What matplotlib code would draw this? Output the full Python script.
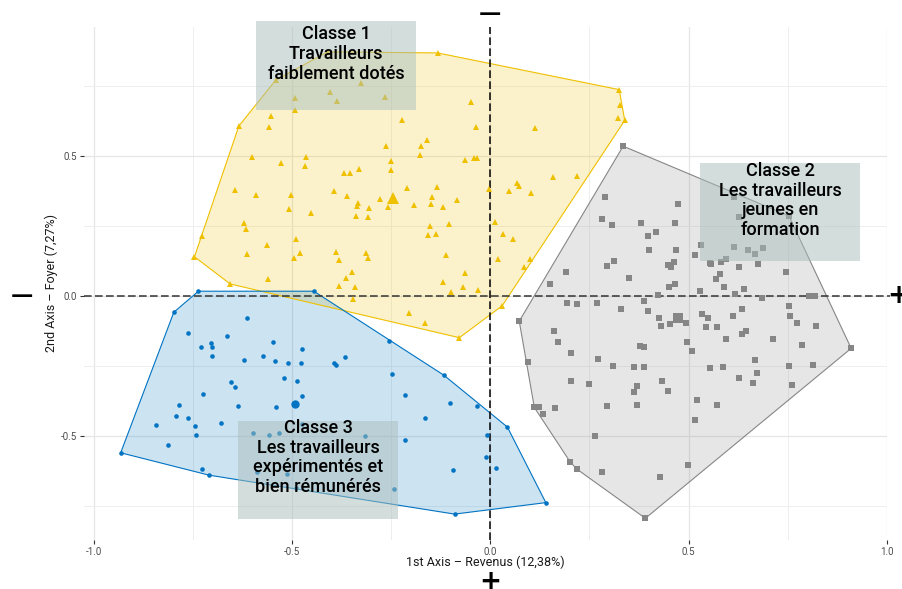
import numpy as np
import matplotlib.pyplot as plt
from matplotlib.patches import Polygon, Rectangle

plt.rcParams['font.family'] = ['Roboto', 'DejaVu Sans']

# class 1 - travailleurs faiblement dotés
c1_x = [-0.541, -0.410, -0.133, 0.325, 0.327, 0.322, 0.339, -0.492, -0.403, -0.387,
        -0.327, -0.266, -0.493, -0.552, -0.557, -0.634, -0.222, -0.264, -0.601, -0.529,
        -0.465, -0.467, -0.370, -0.354, -0.330, -0.250, -0.250, -0.211, -0.645, -0.049,
        -0.037, 0.113, -0.160, -0.174, -0.177, -0.065, -0.041, -0.034, 0.158, 0.219,
        -0.134, -0.003, 0.068, 0.073, -0.592, -0.503, -0.508, -0.451, -0.394, -0.361,
        -0.334, -0.335, -0.305, -0.338, -0.309, -0.277, -0.257, -0.622, -0.615, -0.728,
        -0.746, -0.564, -0.613, -0.491, -0.481, -0.494, -0.389, -0.381, -0.314, -0.308,
        -0.348, -0.365, -0.381, -0.340, -0.560, -0.656, -0.345, -0.204, 0.047, 0.103,
        -0.146, -0.150, -0.193, -0.119, -0.084, -0.153, -0.104, -0.156, -0.136, 0.013,
        0.032, 0.058, -0.111, 0.020, 0.100, 0.086, -0.064, -0.119, -0.070, -0.031,
        -0.098, 0.030, -0.165, -0.078]
c1_y = [0.770, 0.871, 0.867, 0.736, 0.681, 0.635, 0.626, 0.705, 0.726, 0.697,
        0.761, 0.709, 0.663, 0.642, 0.604, 0.606, 0.628, 0.536, 0.496, 0.474,
        0.497, 0.463, 0.438, 0.438, 0.453, 0.481, 0.449, 0.386, 0.378, 0.691,
        0.601, 0.600, 0.555, 0.535, 0.503, 0.485, 0.493, 0.493, 0.425, 0.429,
        0.389, 0.381, 0.401, 0.391, 0.359, 0.361, 0.310, 0.295, 0.373, 0.356,
        0.332, 0.321, 0.313, 0.286, 0.281, 0.344, 0.317, 0.261, 0.237, 0.214,
        0.139, 0.180, 0.149, 0.203, 0.153, 0.133, 0.157, 0.128, 0.154, 0.136,
        0.085, 0.063, 0.034, 0.032, 0.058, 0.042, -0.011, -0.062, 0.373, 0.366,
        0.354, 0.328, 0.323, 0.318, 0.342, 0.250, 0.256, 0.218, 0.219, 0.264,
        0.221, 0.201, 0.145, 0.132, 0.131, 0.101, 0.080, 0.049, 0.031, 0.021,
        0.013, -0.036, -0.096, -0.150]

# class 2 - jeunes en formation
c2_x = [0.335, 0.290, 0.474, 0.282, 0.308, 0.381, 0.466, 0.419, 0.398, 0.401,
        0.468, 0.516, 0.311, 0.295, 0.448, 0.456, 0.464, 0.192, 0.350, 0.151,
        0.451, 0.466, 0.423, 0.194, 0.219, 0.270, 0.330, 0.388, 0.398, 0.426,
        0.431, 0.454, 0.494, 0.073, 0.161, 0.171, 0.497, 0.509, 0.204, 0.378,
        0.388, 0.096, 0.272, 0.310, 0.363, 0.388, 0.204, 0.250, 0.434, 0.371,
        0.363, 0.449, 0.111, 0.123, 0.134, 0.164, 0.295, 0.371, 0.516, 0.265,
        0.202, 0.219, 0.282, 0.429, 0.499, 0.391, 0.615, 0.627, 0.532, 0.615,
        0.651, 0.668, 0.688, 0.595, 0.582, 0.555, 0.557, 0.628, 0.676, 0.580,
        0.570, 0.746, 0.590, 0.530, 0.618, 0.640, 0.686, 0.804, 0.819, 0.535,
        0.550, 0.613, 0.635, 0.754, 0.756, 0.774, 0.822, 0.545, 0.572, 0.635,
        0.645, 0.595, 0.714, 0.787, 0.910, 0.668, 0.555, 0.587, 0.754, 0.814,
        0.673, 0.628, 0.663, 0.761, 0.522, 0.572, 0.753]
c2_y = [0.534, 0.351, 0.326, 0.273, 0.251, 0.259, 0.259, 0.226, 0.212, 0.162,
        0.162, 0.144, 0.124, 0.106, 0.109, 0.101, 0.119, 0.084, 0.062, 0.041,
        0.030, 0.041, 0.001, -0.027, -0.031, -0.027, -0.049, -0.020, -0.056, -0.079,
        -0.109, -0.102, -0.099, -0.091, -0.127, -0.166, -0.166, -0.199, -0.206, -0.181,
        -0.184, -0.238, -0.227, -0.252, -0.256, -0.256, -0.306, -0.316, -0.306, -0.324,
        -0.345, -0.341, -0.399, -0.399, -0.424, -0.401, -0.395, -0.391, -0.445, -0.502,
        -0.595, -0.620, -0.631, -0.649, -0.606, -0.795, 0.351, 0.280, 0.180, 0.173,
        0.162, 0.148, 0.169, 0.131, 0.119, 0.116, 0.112, 0.101, 0.112, 0.076,
        0.059, 0.084, 0.030, 0.016, 0.005, 0.023, -0.009, -0.002, -0.002, -0.066,
        -0.081, -0.074, -0.049, -0.038, -0.074, -0.099, -0.109, -0.113, -0.113, -0.138,
        -0.127, -0.156, -0.156, -0.177, -0.188, -0.231, -0.259, -0.256, -0.252, -0.249,
        -0.277, -0.295, -0.313, -0.320, -0.374, -0.391, 0.285]

# class 3 - expérimentés et bien rémunérés
c3_x = [-0.736, -0.445, -0.798, -0.614, -0.763, -0.663, -0.548, -0.705, -0.701, -0.729,
        -0.474, -0.702, -0.620, -0.572, -0.542, -0.511, -0.478, -0.519, -0.487, -0.653,
        -0.644, -0.725, -0.474, -0.785, -0.636, -0.541, -0.792, -0.762, -0.842, -0.678,
        -0.745, -0.742, -0.474, -0.599, -0.557, -0.534, -0.812, -0.932, -0.727, -0.709,
        -0.589, -0.513, -0.490, -0.255, -0.367, -0.393, -0.390, -0.249, -0.117, -0.214,
        -0.102, -0.033, -0.165, 0.043, -0.008, -0.317, -0.214, -0.011, 0.014, -0.095,
        -0.244, 0.140, -0.090]
c3_y = [0.016, 0.016, -0.059, -0.081, -0.132, -0.143, -0.164, -0.168, -0.182, -0.183,
        -0.189, -0.215, -0.231, -0.216, -0.233, -0.240, -0.239, -0.294, -0.304, -0.307,
        -0.325, -0.350, -0.358, -0.391, -0.395, -0.398, -0.431, -0.436, -0.461, -0.454,
        -0.464, -0.496, -0.458, -0.489, -0.496, -0.491, -0.534, -0.561, -0.620, -0.641,
        -0.631, -0.636, -0.688, -0.162, -0.218, -0.241, -0.249, -0.281, -0.284, -0.354,
        -0.385, -0.395, -0.438, -0.469, -0.496, -0.500, -0.517, -0.575, -0.614, -0.621,
        -0.692, -0.739, -0.780]

# cluster centres
c1_center = (-0.245, 0.348)
c2_center = (0.473, -0.080)
c3_center = (-0.492, -0.386)

labels = ['Classe 1\nTravailleurs\nfaiblement dotés',
          'Classe 2\nLes travailleurs\njeunes en\nformation',
          'Classe 3\nLes travailleurs\nexpérimentés et\nbien rémunérés']
xtick_vals = [-1.0, -0.5, 0.0, 0.5, 1.0]
xtick_labels = ['-1.0', '-0.5', '0.0', '0.5', '1.0']
ytick_vals = [-0.5, 0.0, 0.5]
ytick_labels = ['-0.5', '0.0', '0.5']


def convex_hull(xs, ys):
    pts = sorted(set(zip(xs, ys)))

    def cross(o, a, b):
        return (a[0] - o[0]) * (b[1] - o[1]) - (a[1] - o[1]) * (b[0] - o[0])

    lower = []
    for p in pts:
        while len(lower) >= 2 and cross(lower[-2], lower[-1], p) <= 0:
            lower.pop()
        lower.append(p)
    upper = []
    for p in reversed(pts):
        while len(upper) >= 2 and cross(upper[-2], upper[-1], p) <= 0:
            upper.pop()
        upper.append(p)
    return lower[:-1] + upper[:-1]


fig = plt.figure(figsize=(9.02, 5.89), dpi=100)
ax = fig.add_axes([84 / 902, 49 / 589, 803 / 902, 513 / 589])

clusters = [
    (c1_x, c1_y, c1_center, '#EFC000', '^', 4.2, 8.0),
    (c2_x, c2_y, c2_center, '#868686', 's', 4.2, 6.5),
    (c3_x, c3_y, c3_center, '#0073C2', 'o', 3.3, 6.0),
]
for xs, ys, ctr, col, mk, ms, cms in clusters:
    h = convex_hull(xs, ys)
    ax.add_patch(Polygon(h, closed=True, facecolor=col, alpha=0.2, edgecolor='none', zorder=1))
    ax.add_patch(Polygon(h, closed=True, fill=False, edgecolor=col, lw=0.8, zorder=2))
    ax.plot(xs, ys, mk, color=col, ms=ms, mew=0, ls='none', zorder=4)
    ax.plot([ctr[0]], [ctr[1]], mk, color=col, ms=cms, mew=0, ls='none', zorder=4)

ax.axvline(0, color='black', lw=1.1, dashes=(5, 2.2), zorder=3)
ax.axhline(0, xmin=0, xmax=1.004, color='#333333', lw=1.1, dashes=(5, 2.2), zorder=3, clip_on=False)

# label boxes
boxes = [((-0.591, 0.663), 0.404, 0.318, (-0.389, 0.863)),
         ((0.529, 0.125), 0.403, 0.348, (0.731, 0.340)),
         ((-0.635, -0.796), 0.402, 0.3485, (-0.434, -0.578))]
for (xy, w, hgt, tpos), txt in zip(boxes, labels):
    ax.add_patch(Rectangle(xy, w, hgt, facecolor='#a9bfbb', alpha=0.5, edgecolor='none',
                           zorder=5, clip_on=False))
    ax.text(tpos[0], tpos[1], txt, ha='center', va='center', fontsize=13,
            fontweight='medium', linespacing=1.12, color='black', zorder=6)

ax.set_xlim(-1.0245, 1.0003)
ax.set_ylim(-0.8725, 0.9596)
ax.set_xticks(xtick_vals)
ax.set_xticklabels(xtick_labels)
ax.set_yticks(ytick_vals)
ax.set_yticklabels(ytick_labels)
ax.set_xticks([-0.75, -0.25, 0.25, 0.75], minor=True)
ax.set_yticks([-0.75, -0.25, 0.25, 0.75], minor=True)
ax.grid(which='major', color='#e6e6e6', lw=0.9)
ax.grid(which='minor', color='#eeeeee', lw=0.7)
ax.set_axisbelow(True)
ax.tick_params(which='major', length=3, width=0.8, color='#333333', labelsize=7,
               labelcolor='#4d4d4d', pad=2)
ax.tick_params(which='minor', length=0)
for s in ax.spines.values():
    s.set_visible(False)

ax.set_xlabel('1st Axis – Revenus (12,38%)', fontsize=9, color='#1a1a1a', labelpad=-1)
ax.set_ylabel('2nd Axis – Foyer (7,27%)', fontsize=9, color='#1a1a1a', labelpad=2)

# direction signs around the axes
sign = dict(ha='center', va='center', fontweight='bold', family='DejaVu Sans')
fig.text(490 / 902, 1 - 14 / 589, '—', fontsize=16, **sign)
fig.text(490 / 902, 1 - 582 / 589, '+', fontsize=19, **sign)
fig.text(22 / 902, 1 - 296 / 589, '—', fontsize=16, **sign)
fig.text(898 / 902, 1 - 296 / 589, '+', fontsize=19, **sign)

plt.savefig('out.png', dpi=100)
